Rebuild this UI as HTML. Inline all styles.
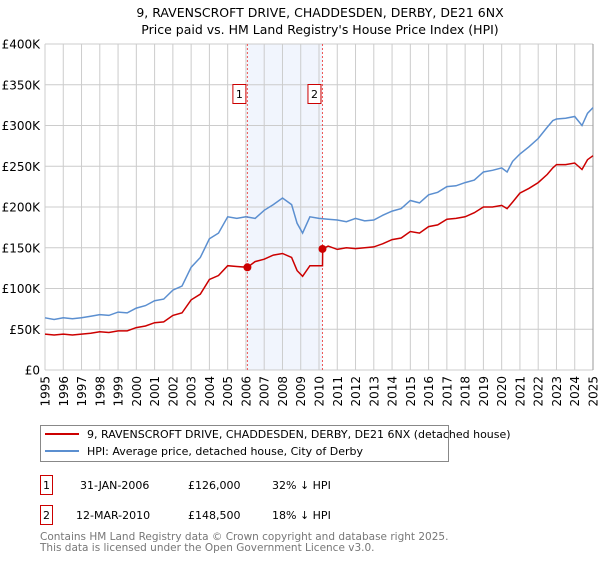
<!DOCTYPE html>
<html><head><meta charset="utf-8"><style>
body{margin:0;background:#fff;font-family:"DejaVu Sans","Liberation Sans",sans-serif;}
svg text{font-family:"DejaVu Sans","Liberation Sans",sans-serif;}
</style></head><body>
<svg id="c" width="600" height="560" xmlns="http://www.w3.org/2000/svg">
<text x="320" y="17" text-anchor="middle" font-size="12.5" fill="#000">9, RAVENSCROFT DRIVE, CHADDESDEN, DERBY, DE21 6NX</text>
<text x="320" y="34" text-anchor="middle" font-size="12.5" fill="#000">Price paid vs. HM Land Registry's House Price Index (HPI)</text>
<g id="plot"></g>
<g>
<rect x="40.5" y="425.5" width="408" height="36" fill="#fff" stroke="#888"/>
<line x1="45" y1="434" x2="79" y2="434" stroke="#cc0000" stroke-width="2"/>
<text x="87" y="438" font-size="11">9, RAVENSCROFT DRIVE, CHADDESDEN, DERBY, DE21 6NX (detached house)</text>
<line x1="45" y1="451" x2="79" y2="451" stroke="#5b8fd0" stroke-width="2"/>
<text x="87" y="455" font-size="11">HPI: Average price, detached house, City of Derby</text>
</g>
<g>
<rect x="40.5" y="475.5" width="12" height="19" fill="#fff" stroke="#cc0000"/>
<text x="46.5" y="489" text-anchor="middle" font-size="11">1</text>
<text x="80" y="489" font-size="11">31-JAN-2006</text>
<text x="188" y="489" font-size="11">£126,000</text>
<text x="272" y="489" font-size="11">32% ↓ HPI</text>
<rect x="40.5" y="505.5" width="12" height="19" fill="#fff" stroke="#cc0000"/>
<text x="46.5" y="519" text-anchor="middle" font-size="11">2</text>
<text x="76" y="519" font-size="11">12-MAR-2010</text>
<text x="188" y="519" font-size="11">£148,500</text>
<text x="272" y="519" font-size="11">18% ↓ HPI</text>
</g>
<text x="40" y="540" font-size="10.5" fill="#777">Contains HM Land Registry data © Crown copyright and database right 2025.</text>
<text x="40" y="551" font-size="10.5" fill="#777">This data is licensed under the Open Government Licence v3.0.</text>
</svg>
<script>
const hpiDates=[1995,1995.5,1996,1996.5,1997,1997.5,1998,1998.5,1999,1999.5,2000,2000.5,2001,2001.5,2002,2002.5,2003,2003.5,2004,2004.5,2005,2005.5,2006,2006.5,2007,2007.5,2008,2008.5,2008.8,2009.1,2009.5,2010,2010.5,2011,2011.5,2012,2012.5,2013,2013.5,2014,2014.5,2015,2015.5,2016,2016.5,2017,2017.5,2018,2018.5,2019,2019.5,2020,2020.3,2020.6,2021,2021.5,2022,2022.5,2022.8,2023,2023.5,2024,2024.4,2024.7,2025];
const hpiValues=[64,62,64,63,64,66,68,67,71,70,76,79,85,87,98,103,126,138,161,168,188,186,188,186,196,203,211,203,180,168,188,186,185,184,182,186,183,184,190,195,198,208,205,215,218,225,226,230,233,243,245,248,243,256,265,274,284,298,306,308,309,311,300,315,322];
const priceDates=[1995,1995.5,1996,1996.5,1997,1997.5,1998,1998.5,1999,1999.5,2000,2000.5,2001,2001.5,2002,2002.5,2003,2003.5,2004,2004.5,2005,2005.5,2006.08,2006.5,2007,2007.5,2008,2008.5,2008.8,2009.1,2009.5,2010.19,2010.2,2010.5,2011,2011.5,2012,2012.5,2013,2013.5,2014,2014.5,2015,2015.5,2016,2016.5,2017,2017.5,2018,2018.5,2019,2019.5,2020,2020.3,2020.6,2021,2021.5,2022,2022.5,2022.8,2023,2023.5,2024,2024.4,2024.7,2025];
const priceValues=[44,43,44,43,44,45,47,46,48,48,52,54,58,59,67,70,86,93,111,116,128,127,126,133,136,141,143,138,122,115,128,128,148.5,152,148,150,149,150,151,155,160,162,170,168,176,178,185,186,188,193,200,200,202,198,206,217,223,230,240,248,252,252,254,246,258,263];
const sales=[{date:2006.08,value:126,label:"1"},{date:2010.19,value:148.5,label:"2"}];
const yTicks=[0,50,100,150,200,250,300,350,400];
const yTickLabels=["£0","£50K","£100K","£150K","£200K","£250K","£300K","£350K","£400K"];
const xTicks=[1995,1996,1997,1998,1999,2000,2001,2002,2003,2004,2005,2006,2007,2008,2009,2010,2011,2012,2013,2014,2015,2016,2017,2018,2019,2020,2021,2022,2023,2024,2025];

const L=45,R=593,T=44,B=370;
const X=d=>L+(d-1995)/30*(R-L);
const Y=v=>B-v/400*(B-T);
const NS="http://www.w3.org/2000/svg";
const g=document.getElementById('plot');
function mk(tag,attrs,parent){const e=document.createElementNS(NS,tag);for(const k in attrs)e.setAttribute(k,attrs[k]);(parent||g).appendChild(e);return e;}

const shade=mk('rect',{x:X(sales[0].date),y:T,width:X(sales[1].date)-X(sales[0].date),height:B-T,fill:'#eef3fc',opacity:0.8});



yTicks.forEach((v,i)=>{
  const ln=mk('line',{x1:L,x2:R,y1:Y(v),y2:Y(v),stroke:'#cccccc','stroke-width':1});
  
  
  const t=mk('text',{x:L-5,y:Y(v)+4.5,'text-anchor':'end','font-size':12});
  
  
  t.textContent=yTickLabels[i];
});
xTicks.forEach(d=>{
  const ln=mk('line',{x1:X(d),x2:X(d),y1:T,y2:B,stroke:'#cccccc','stroke-width':1});
  
  
  const t=mk('text',{transform:`translate(${X(d)+4.5},${B+6}) rotate(-90)`,'text-anchor':'end','font-size':12});
  
  
  t.textContent=d;
});
const ax=mk('line',{x1:R,x2:R,y1:T,y2:B,stroke:'#999','stroke-width':1});



sales.forEach(s=>{
  const ln=mk('line',{x1:X(s.date),x2:X(s.date),y1:T,y2:B,stroke:'#ee5555','stroke-width':1,'stroke-dasharray':'2,2'});
  
  
});

function path(ds,vs){return ds.map((d,i)=>(i?'L':'M')+X(d).toFixed(1)+','+Y(vs[i]).toFixed(1)).join('');}
const hp=mk('path',{d:path(hpiDates,hpiValues),fill:'none',stroke:'#5b8fd0','stroke-width':1.5});


const pp=mk('path',{d:path(priceDates,priceValues),fill:'none',stroke:'#cc0000','stroke-width':1.5});



sales.forEach(s=>{
  const c=mk('circle',{cx:X(s.date),cy:Y(s.value),r:4,fill:'#cc0000'});
  
  
  const bx=X(s.date)-15;
  const r=mk('rect',{x:bx+0.5,y:84.5,width:13,height:19,fill:'#fff',stroke:'#cc0000'});
  
  
  const t=mk('text',{x:bx+7,y:98,'text-anchor':'middle','font-size':11});
  
  
  t.textContent=s.label;
});
</script>
</body></html>
